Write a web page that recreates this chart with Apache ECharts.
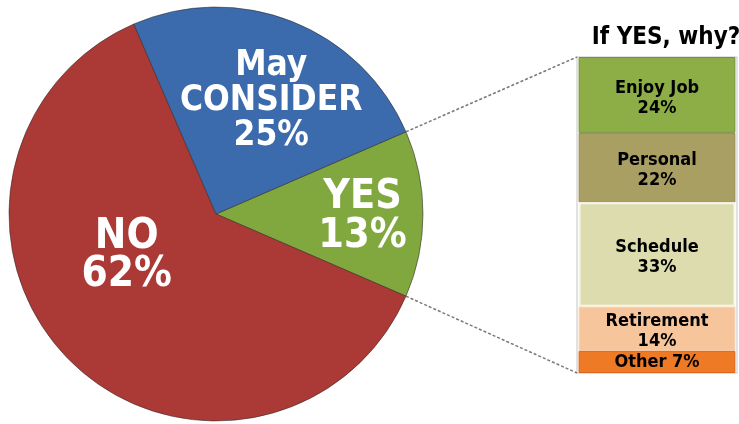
<!DOCTYPE html>
<html>
<head>
<meta charset="utf-8">
<script src="https://cdn.jsdelivr.net/npm/echarts@6/dist/echarts.min.js"></script>
<style>
  html, body { margin: 0; padding: 0; background: #ffffff; }
  #chart { width: 739px; height: 424px; }
</style>
</head>
<body>
<div id="chart"></div>
<script>
// Main answer split (percent)
const answerNames = ['YES', 'NO', 'May\nCONSIDER'];
const answerValues = [13, 62, 25];

// Reasons given by those answering YES (percent)
const reasonNames = ['Enjoy Job', 'Personal', 'Schedule', 'Retirement', 'Other'];
const reasonValues = [24, 22, 33, 14, 7];

const breakdownTitle = 'If YES, why?';

// ---- layout & style ----
const FONT = "'Liberation Sans Narrow', 'DejaVu Sans Condensed', 'Arial Narrow', sans-serif";
const pieCenter = [216, 214];
const pieRadius = 207;
const answerColors = ['#80a83f', '#ab3a36', '#3b6aad'];
const answerFontSizes = [41, 42, 35];
const answerLineHeights = [39, 38, 35];
// nudges of the inside labels from their default spot
const answerLabelShift = [[40, 3], [-14, -33], [16, -14]];

const reasonColors = ['#8dad47', '#aa9f63', '#dcdcae', '#f7c59b', '#ee7a25'];
const reasonEdges  = ['#73923a', '#958a52', '#f6f6ea', '#f7d3b2', '#d9661a'];

const bar = { left: 579, top: 58, width: 157, height: 314 };

const total = answerValues.reduce((a, b) => a + b, 0);
// YES slice sits centered on the 3 o'clock direction
const startAngle = answerValues[0] / total * 180;

const chart = echarts.init(document.getElementById('chart'), null, { renderer: 'canvas' });

// connector endpoints on the pie rim at both edges of the YES slice
const rad = startAngle * Math.PI / 180;
const rimTop = [pieCenter[0] + pieRadius * Math.cos(rad), pieCenter[1] - pieRadius * Math.sin(rad)];
const rimBottom = [pieCenter[0] + pieRadius * Math.cos(rad), pieCenter[1] + pieRadius * Math.sin(rad)];

const connectorStyle = { stroke: '#7a7a7a', lineWidth: 1.5, lineDash: [3, 2] };

chart.setOption({
  animation: false,
  backgroundColor: '#ffffff',
  title: {
    text: breakdownTitle,
    left: 661,
    top: 21,
    textAlign: 'center',
    textStyle: { fontFamily: FONT, fontSize: 24, fontWeight: 'bold', color: '#000000' }
  },
  grid: {
    left: bar.left - 2, top: bar.top - 1, width: bar.width + 3, height: bar.height + 2,
    show: true, borderColor: '#c4c4c4', borderWidth: 1, backgroundColor: 'transparent'
  },
  xAxis: { type: 'category', data: ['why'], show: false },
  yAxis: { type: 'value', min: 0, max: 100, inverse: true, show: false },
  graphic: [
    { type: 'line', z: 10, shape: { x1: rimTop[0], y1: rimTop[1], x2: bar.left - 2, y2: bar.top - 1 }, style: connectorStyle },
    { type: 'line', z: 10, shape: { x1: rimBottom[0], y1: rimBottom[1], x2: bar.left - 2, y2: bar.top + bar.height + 1 }, style: connectorStyle }
  ],
  series: [
    {
      type: 'pie',
      center: pieCenter,
      radius: pieRadius,
      startAngle: startAngle,
      clockwise: true,
      silent: true,
      itemStyle: { borderColor: 'rgba(50,40,40,0.55)', borderWidth: 1 },
      label: {
        show: true,
        position: 'inside',
        formatter: '{b}\n{c}%',
        color: '#ffffff',
        fontFamily: FONT,
        fontWeight: 'bold',
        align: 'center'
      },
      labelLine: { show: false },
      labelLayout: function (p) {
        const s = answerLabelShift[p.dataIndex];
        return { dx: s[0], dy: s[1] };
      },
      data: answerNames.map((n, i) => ({
        name: n,
        value: answerValues[i],
        itemStyle: { color: answerColors[i] },
        label: { fontSize: answerFontSizes[i], lineHeight: answerLineHeights[i] }
      }))
    }
  ].concat(reasonNames.map((n, i) => {
    const last = i === reasonNames.length - 1;
    return {
      type: 'bar',
      name: n,
      stack: 'why',
      barWidth: '98%',
      silent: true,
      data: [reasonValues[i]],
      itemStyle: { color: reasonColors[i], borderColor: reasonEdges[i], borderWidth: i === 2 ? 2 : 1 },
      label: {
        show: true,
        position: 'inside',
        offset: [0, last ? 0 : 3],
        formatter: last ? '{a} {c}%' : '{a}\n{c}%',
        color: '#000000',
        fontFamily: FONT,
        fontWeight: 'bold',
        fontSize: 18,
        lineHeight: 20
      }
    };
  }))
});
</script>
</body>
</html>
